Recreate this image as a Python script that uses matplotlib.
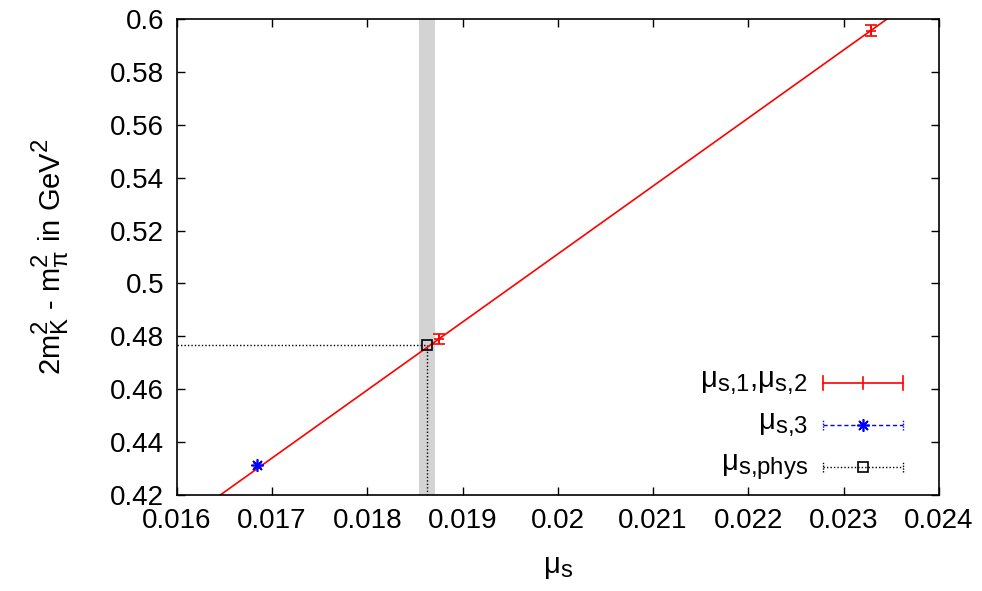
import numpy as np
import matplotlib
matplotlib.use("Agg")
import matplotlib.pyplot as plt
import matplotlib._mathtext as mt

# gnuplot-like larger sub/superscripts
mt.SHRINK_FACTOR = 0.82

plt.rcParams['font.family'] = ['Liberation Sans', 'DejaVu Sans']
plt.rcParams['mathtext.fontset'] = 'custom'
plt.rcParams['mathtext.rm'] = 'Liberation Sans'
plt.rcParams['mathtext.it'] = 'Liberation Sans'

# data
mu_red = [0.018751, 0.023286]
y_red = [0.4790, 0.5956]
err_red = [0.0019, 0.0022]

mu_blue = [0.01684]
y_blue = [0.4313]
err_blue = [0.0008]

mu_phys = 0.018632
y_phys = 0.4768
band = [0.018545, 0.018706]

xticks = [0.016, 0.017, 0.018, 0.019, 0.020, 0.021, 0.022, 0.023, 0.024]
yticks = [0.42, 0.44, 0.46, 0.48, 0.50, 0.52, 0.54, 0.56, 0.58, 0.60]

fig = plt.figure(figsize=(9.82, 5.91), dpi=100)
ax = fig.add_axes([0.180, 0.1624, 0.776, 0.8055])
ax.set_xlim(0.016, 0.024)
ax.set_ylim(0.42, 0.6)

# band for physical mu_s
ax.axvspan(band[0], band[1], color='#d3d3d3', lw=0, zorder=0)

# linear fit through red points
p = np.polyfit(mu_red, y_red, 1)
xl = np.array([0.016, 0.024])
ax.plot(xl, np.polyval(p, xl), color='red', lw=1.2, zorder=2)

ax.errorbar(mu_red, y_red, yerr=err_red, fmt='none', ecolor='red',
            elinewidth=1.2, capsize=4, capthick=1.2, zorder=3)
ax.plot(mu_red, y_red, '+', color='red', ms=7, mew=1.2, zorder=3)
ax.errorbar(mu_blue, y_blue, yerr=err_blue, fmt='none', ecolor='blue',
            elinewidth=1.0, capsize=3, zorder=3)
ax.plot(mu_blue, y_blue, marker=(8, 2, 0), color='blue', ms=9, mew=1.2,
        ls='none', zorder=4)

# dotted guide lines to the physical point
ax.plot([0.016, mu_phys], [y_phys, y_phys], color='black', ls=(0, (1, 1.5)), lw=1.0, zorder=2)
ax.plot([mu_phys, mu_phys], [0.42, y_phys], color='black', ls=(0, (1, 1.5)), lw=1.0, zorder=2)
ax.plot([mu_phys], [y_phys], 's', mfc='none', mec='black', ms=7, mew=1.2, zorder=4)

ax.set_xticks(xticks)
ax.set_yticks(yticks)
ax.set_xticklabels(['%g' % v for v in xticks])
ax.set_yticklabels(['%g' % v for v in yticks])
ax.tick_params(direction='in', length=6, width=1, top=True, right=True,
               labelsize=20, pad=9)
for s in ax.spines.values():
    s.set_linewidth(1.2)

ax.set_xlabel(r'$\mathregular{\mu_s}$', fontsize=21, labelpad=14)
ax.set_ylabel(r'$\mathregular{2m_K^2}$ - $\mathregular{m_\pi^2}$ in GeV$\mathregular{^2}$',
              fontsize=21, labelpad=28)

# legend drawn gnuplot style
tr = ax.transAxes
lx0, lx1, lxm = 0.848, 0.953, 0.9005
rows = [0.235, 0.147, 0.059]
labels = [r'$\mathregular{\mu_{s{,}1}}$,$\mathregular{\mu_{s{,}2}}$',
          r'$\mathregular{\mu_{s{,}3}}$',
          r'$\mathregular{\mu_{s{,}phys}}$']
for yy, lab in zip(rows, labels):
    ax.text(0.828, yy, lab, transform=tr, ha='right', va='center', fontsize=21)

ax.plot([lx0, lx1], [rows[0]] * 2, color='red', lw=1.2, transform=tr)
ax.plot([lx0, lx0, np.nan, lx1, lx1, np.nan, lxm, lxm],
        [rows[0] - 0.014, rows[0] + 0.014, np.nan, rows[0] - 0.014, rows[0] + 0.014,
         np.nan, rows[0] - 0.012, rows[0] + 0.012], color='red', lw=1.2, transform=tr)

ax.plot([lx0, lx1], [rows[1]] * 2, color='blue', lw=1.0, ls=(0, (3, 2)), transform=tr)
ax.plot([lxm], [rows[1]], marker=(8, 2, 0), color='blue', ms=9, mew=1.2, transform=tr)
ax.plot([lx0, lx0, np.nan, lx1, lx1],
        [rows[1] - 0.01, rows[1] + 0.01, np.nan, rows[1] - 0.01, rows[1] + 0.01],
        color='blue', lw=1.0, ls=(0, (1, 1)), transform=tr)

ax.plot([lx0, lx1], [rows[2]] * 2, color='black', lw=1.0, ls=(0, (1, 1.5)), transform=tr)
ax.plot([lxm], [rows[2]], 's', mfc='none', mec='black', ms=7, mew=1.2, transform=tr)
ax.plot([lx0, lx0, np.nan, lx1, lx1],
        [rows[2] - 0.01, rows[2] + 0.01, np.nan, rows[2] - 0.01, rows[2] + 0.01],
        color='black', lw=1.0, ls=(0, (1, 1)), transform=tr)

fig.savefig('out.png', dpi=100)
